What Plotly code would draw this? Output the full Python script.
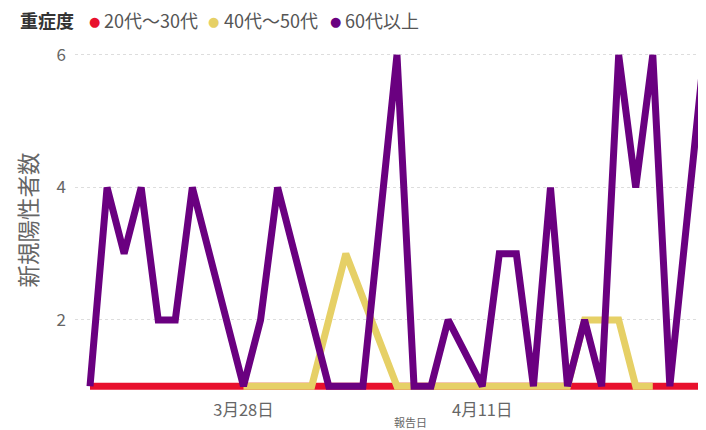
import pandas as pd
import plotly.graph_objects as go

# 報告日 (daily, 2021-03-19 .. 2021-04-24)
dates = [d.strftime("%Y-%m-%d") for d in pd.date_range("2021-03-19", "2021-04-24", freq="D")]

N = None
# 20代～30代
sev_20_30 = [1, N, N, N, N, N, N, N, N, 1, N, N, N, N, N, N, 1, N, 1, N, N, N, N, N, N, N, N, N, 1, N, 1, N, N, N, 1, N, 1]
# 40代～50代
sev_40_50 = [N, N, N, N, N, N, N, N, N, 1, N, 1, N, 1, 2, 3, N, N, 1, N, N, 1, N, N, N, 1, N, N, 1, 2, 2, 2, 1, 1, N, N, N]
# 60代以上
sev_60 = [1, 4, 3, 4, 2, 2, 4, N, N, 1, 2, 4, N, N, 1, 1, 1, N, 6, 1, 1, 2, N, 1, 3, 3, 1, 4, 1, 2, 1, 6, 4, 6, 1, N, 6]

legend_title = "重症度"
series_names = ["20代～30代", "40代～50代", "60代以上"]
series_values = [sev_20_30, sev_40_50, sev_60]
series_colors = ["#E8112D", "#E6D066", "#6A0080"]

tick_dates = ["2021-03-28", "2021-04-11"]
tick_labels = ["3月28日", "4月11日"]
y_ticks = [2, 4, 6]
x_title = "報告日"
y_title = "新規陽性者数"

FONT = "Noto Sans CJK JP, Noto Sans, sans-serif"

# page body has an 8px default margin -> figure is 8px smaller and offset
OFF = 8
W, H = 706 - OFF, 430 - OFF
L, R, T, B = 75 - OFF, 0, 50 - OFF, 40
PW, PH = W - L - R, H - T - B


def px_x(xw):  # window px -> paper x
    return (xw - OFF - L) / PW


def px_y(yw):  # window px -> paper y
    return (T + PH - (yw - OFF)) / PH


fig = go.Figure()
for name, vals, col in zip(series_names, series_values, series_colors):
    fig.add_trace(go.Scatter(
        x=dates, y=vals, mode="lines", name=name, connectgaps=True,
        line=dict(color=col, width=7), showlegend=False,
    ))

# legend built from text
annotations = [dict(
    text="<b>" + legend_title + "</b>", x=px_x(18), y=px_y(20), xref="paper", yref="paper",
    xanchor="left", yanchor="middle", showarrow=False,
    font=dict(size=18, color="#333333", family=FONT),
)]
dot_x = [94, 213, 335]
text_x = [102, 222, 343]
for name, col, dx, tx in zip(series_names, series_colors, dot_x, text_x):
    annotations.append(dict(
        text="●", x=px_x(dx), y=px_y(21), xref="paper", yref="paper",
        xanchor="center", yanchor="middle", showarrow=False,
        font=dict(size=13, color=col, family="DejaVu Sans"),
    ))
    annotations.append(dict(
        text=name, x=px_x(tx), y=px_y(20), xref="paper", yref="paper",
        xanchor="left", yanchor="middle", showarrow=False,
        font=dict(size=18, color="#555555", family=FONT),
    ))
# x-axis title
annotations.append(dict(
    text=x_title, x=px_x(410), y=px_y(422), xref="paper", yref="paper",
    xanchor="center", yanchor="middle", showarrow=False,
    font=dict(size=11, color="#666666", family=FONT),
))

start = pd.Timestamp(dates[0])
x0 = start - pd.Timedelta(hours=0.88 * 24)
x1 = start + pd.Timedelta(hours=36.12 * 24)

fig.update_layout(
    width=W, height=H,
    margin=dict(l=L, r=R, t=T, b=B),
    paper_bgcolor="white", plot_bgcolor="white",
    font=dict(family=FONT, color="#666666"),
    showlegend=False,
    annotations=annotations,
    xaxis=dict(
        type="date", range=[x0, x1],
        tickvals=tick_dates, ticktext=tick_labels,
        tickfont=dict(size=16.5, color="#666666"),
        showgrid=False, zeroline=False, showline=False, ticks="", ticklabelstandoff=8,
        automargin=False,
    ),
    yaxis=dict(
        range=[0.943, 6.075],
        tickvals=y_ticks, ticktext=[str(v) for v in y_ticks],
        tickfont=dict(size=17, color="#666666"),
        showgrid=True, gridcolor="#dddddd", griddash="dot", gridwidth=1,
        zeroline=False, showline=False, ticks="", ticklabelstandoff=8,
        title=dict(text=y_title, font=dict(size=22.5, color="#666666"), standoff=12),
        automargin=False,
    ),
)

fig.write_html("out.html")
